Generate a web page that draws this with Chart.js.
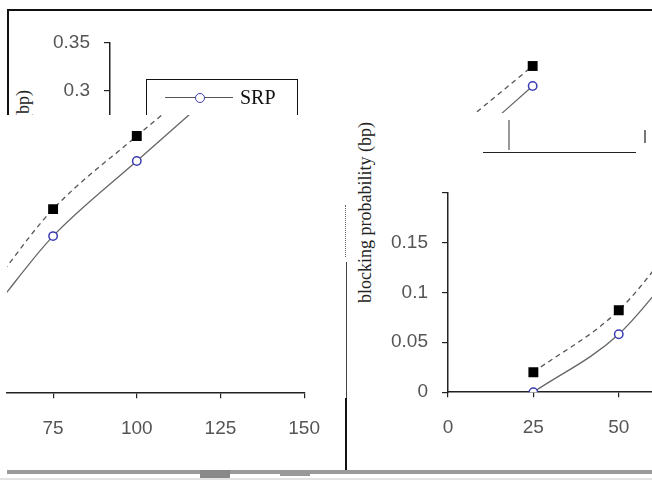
<!DOCTYPE html>
<html>
<head>
<meta charset="utf-8">
<script src="https://cdn.jsdelivr.net/npm/chart.js@4.4.1/dist/chart.umd.min.js"></script>
<style>
  html, body { margin: 0; padding: 0; background: #fff; }
  #page { position: relative; width: 652px; height: 492px; overflow: hidden; background: #fff; }
  .wrap { position: absolute; overflow: hidden; }
  .wrap canvas { position: absolute; }
  .ln { position: absolute; background: #111; }
  .rot { position: absolute; width: 300px; height: 22px; line-height: 22px; transform-origin: left top;
         transform: rotate(-90deg); font: 18px "Liberation Serif", serif; white-space: nowrap; color: #222; }
</style>
</head>
<body>
<div id="page">
  <!-- frame -->
  <div class="ln" style="left:7px;top:9px;width:645px;height:1.5px;"></div>
  <div class="ln" style="left:7px;top:9px;width:1.5px;height:106px;"></div>

  <!-- top-left piece: y axis and legend -->
  <div class="wrap" id="wA" style="left:0px;top:0px;width:470px;height:115px;">
    <canvas id="cA"></canvas>
    <div class="rot" style="left:13px;top:390px;text-align:right;">blocking probability (bp)</div>
    <div style="position:absolute;left:146px;top:79px;width:150px;height:80px;border:1.5px solid #111;"></div>
    <div style="position:absolute;left:165px;top:97px;width:68px;height:1.3px;background:#555;"></div>
    <div style="position:absolute;left:195px;top:93px;width:10px;height:10px;box-sizing:border-box;border-radius:50%;border:1.5px solid #3c3cb4;background:#fff;"></div>
    <div id="legSrp" style="position:absolute;left:240px;top:86px;font:20px 'Liberation Serif',serif;color:#111;"></div>
  </div>

  <!-- lower-left piece -->
  <div class="wrap" id="wB" style="left:0px;top:115px;width:335px;height:330px;">
    <canvas id="cB"></canvas>
  </div>

  <!-- top-right piece -->
  <div class="wrap" id="wC" style="left:466px;top:40px;width:100px;height:73px;">
    <canvas id="cC"></canvas>
  </div>
  <div class="ln" style="left:483px;top:152px;width:153px;height:1.3px;background:#222;"></div>
  <div class="ln" style="left:644px;top:130px;width:2px;height:13px;background:#777;"></div>
  <div class="ln" style="left:508px;top:120px;width:2px;height:30px;background:#999;"></div>

  <!-- right piece -->
  <div class="wrap" id="wD" style="left:380px;top:150px;width:272px;height:295px;">
    <canvas id="cD"></canvas>
  </div>
  <div class="rot" style="left:355px;top:303px;text-align:left;">blocking probability (bp)</div>

  <!-- glitch lines -->
  <div class="ln" style="left:345px;top:205px;width:1px;height:52px;background:none;border-left:1px dotted #666;"></div>
  <div class="ln" style="left:346px;top:262px;width:1px;height:136px;background:#444;"></div>
  <div class="ln" style="left:345px;top:398px;width:2px;height:72px;background:#111;"></div>
  <div class="ln" style="left:7px;top:470px;width:645px;height:4px;background:#9a9a9a;"></div>
  <div class="ln" style="left:200px;top:470px;width:30px;height:8px;background:#888;"></div>
  <div class="ln" style="left:280px;top:470px;width:30px;height:6px;background:#999;"></div>
  <div class="ln" style="left:0px;top:478px;width:652px;height:2px;background:#e2e2e2;"></div>
</div>

<script>
// offered load on the x axis, blocking probability on the y axis
const loads = [25, 50, 75, 100, 125];
const srpBp = [0, 0.058, 0.157, 0.232, 0.306];
const otherBp = [0.02, 0.082, 0.184, 0.257, 0.326];
const xTicks = [0, 25, 50, 75, 100, 125, 150];
const yTicks = [0, 0.05, 0.1, 0.15, 0.2, 0.25, 0.3, 0.35];
const yLabels = ['0', '0.05', '0.1', '0.15', '', '0.25', '0.3', '0.35'];
const seriesNames = ['SRP', ''];

document.getElementById('legSrp').textContent = seriesNames[0];

const tickFont = { family: "'Liberation Sans', Arial, sans-serif", size: 19 };

function xScale(min, max, show) {
    return {
        type: 'linear', min: min, max: max, display: show,
        afterBuildTicks: function(s) {
            s.ticks = xTicks.filter(v => v >= min - 1e-9 && v <= max + 1e-9).map(v => ({ value: v }));
        },
        border: { display: true, color: '#222', width: 1.5 },
        grid: { drawOnChartArea: false, drawTicks: true, tickLength: 5, color: '#222', lineWidth: 1.2 },
        ticks: { font: tickFont, color: '#555', padding: 19, maxRotation: 0, autoSkip: false }
    };
}

function yScale(min, max, show) {
    return {
        type: 'linear', min: min, max: max, display: show,
        afterBuildTicks: function(s) {
            s.ticks = yTicks.filter(v => v >= min - 1e-9 && v <= max + 1e-9).map(v => ({ value: v }));
        },
        border: { display: true, color: '#222', width: 1.5 },
        grid: { drawOnChartArea: false, drawTicks: true, tickLength: 6, color: '#222', lineWidth: 1.2 },
        ticks: {
            font: tickFont, color: '#555', padding: 14, autoSkip: false,
            callback: function(v) {
                const i = yTicks.findIndex(t => Math.abs(t - v) < 1e-9);
                return i >= 0 ? yLabels[i] : '';
            }
        }
    };
}

function makeDatasets() {
    return [
        {
            label: seriesNames[0],
            data: loads.map((x, i) => ({ x: x, y: srpBp[i] })),
            borderColor: '#666', borderWidth: 1.3,
            tension: 0.4, cubicInterpolationMode: 'monotone',
            pointStyle: 'circle', pointRadius: 4.2, pointBorderWidth: 1.5,
            pointBorderColor: '#3c3cb4', pointBackgroundColor: '#fff'
        },
        {
            label: seriesNames[1],
            data: loads.map((x, i) => ({ x: x, y: otherBp[i] })),
            borderColor: '#555', borderWidth: 1.3, borderDash: [5, 4],
            tension: 0.4, cubicInterpolationMode: 'monotone',
            pointStyle: 'rect', pointRadius: 7, pointBorderWidth: 0,
            pointBorderColor: '#000', pointBackgroundColor: '#000'
        }
    ];
}

function makeConfig(xs, ys, withData) {
    return {
        type: 'line',
        data: { datasets: withData ? makeDatasets() : [] },
        options: {
            responsive: false, maintainAspectRatio: false, animation: false,
            devicePixelRatio: 1, events: [],
            layout: { padding: { top: 14, right: 20, bottom: 4, left: 4 } },
            scales: { x: xs, y: ys },
            plugins: { legend: { display: false }, tooltip: { enabled: false } }
        }
    };
}

// size the canvas so that its chart area covers rect (page pixels), then shift it there
function place(id, wrapId, cfgFn, rect) {
    const cv = document.getElementById(id);
    const wrap = document.getElementById(wrapId);
    const wx = parseFloat(wrap.style.left), wy = parseFloat(wrap.style.top);
    let w = Math.round(rect.r - rect.l) + 90, h = Math.round(rect.b - rect.t) + 60;
    cv.width = w; cv.height = h;
    let chart = new Chart(cv, cfgFn());
    let a = chart.chartArea;
    w += Math.round((rect.r - rect.l) - (a.right - a.left));
    h += Math.round((rect.b - rect.t) - (a.bottom - a.top));
    chart.destroy();
    cv.width = w; cv.height = h;
    chart = new Chart(cv, cfgFn());
    a = chart.chartArea;
    cv.style.left = (rect.l - a.left - wx) + 'px';
    cv.style.top = (rect.t - a.top - wy) + 'px';
    return chart;
}

// top-left: only the y axis (0.35 at y=42, 0.3 at y=90)
place('cA', 'wA', () => makeConfig(xScale(0, 100, false), yScale(0.2, 0.35, true), false),
      { l: 110, t: 42, r: 300, b: 186 });

// lower-left: x axis 75..150
const bMin = 75 - 46 / 3.34;
place('cB', 'wB', () => makeConfig(xScale(bMin, 150, true), yScale(0, 0.35, false), true),
      { l: 7, t: 43, r: 304, b: 393 });

// top-right: the points at 125
place('cC', 'wC', () => makeConfig(xScale(105, 135, false), yScale(0.25, 0.35, false), true),
      { l: 466, t: 42, r: 466 + 30 * 3.34, b: 142 });

// right: x axis 0..50, y axis 0..0.2
place('cD', 'wD', () => makeConfig(xScale(0, 65, true), yScale(0, 0.2, true), true),
      { l: 448, t: 192, r: 448 + 65 * 3.42, b: 392 });
</script>
</body>
</html>
